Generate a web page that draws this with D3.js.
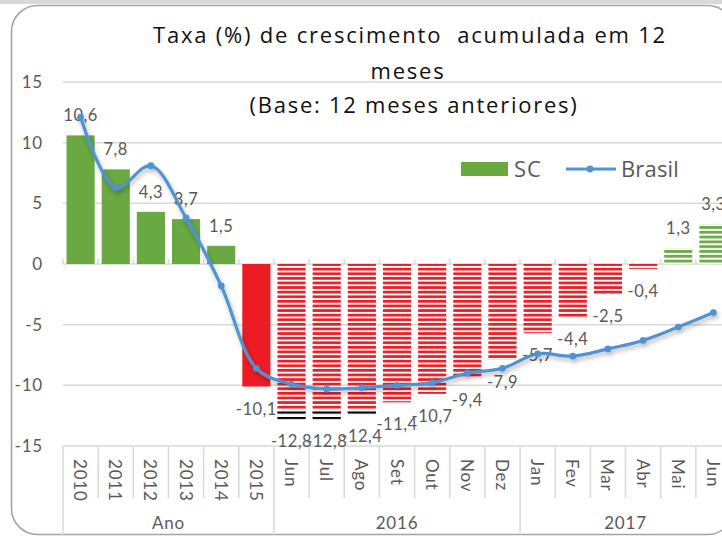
<!DOCTYPE html>
<html>
<head>
<meta charset="utf-8">
<script src="https://cdn.jsdelivr.net/npm/d3@7"></script>
<style>
  body { margin: 0; background: #fff; }
  svg { display: block; }
</style>
</head>
<body>
<svg id="chart" width="722" height="536"></svg>
<script>
// ---- data ----
const categories = ["2010", "2011", "2012", "2013", "2014", "2015",
  "Jun", "Jul", "Ago", "Set", "Out", "Nov", "Dez",
  "Jan", "Fev", "Mar", "Abr", "Mai", "Jun"];
const groupNames = ["Ano", "2016", "2017"];
const groupOf = [0, 0, 0, 0, 0, 0, 1, 1, 1, 1, 1, 1, 1, 2, 2, 2, 2, 2, 2];
const scValues = [10.6, 7.8, 4.3, 3.7, 1.5, -10.1, -12.8, -12.8, -12.4, -11.4, -10.7, -9.4, -7.9,
  -5.7, -4.4, -2.5, -0.4, 1.3, 3.3];
const brasilValues = [12.1, 6.3, 8.1, 3.8, -1.8, -8.6, -9.9, -10.3, -10.2, -10.0, -9.8, -9.0, -8.6,
  -7.4, -7.6, -7.0, -6.3, -5.2, -4.0];
const yTicks = [15, 10, 5, 0, -5, -10, -15];
const titleLines = ["Taxa (%) de crescimento  acumulada em 12", "meses", "(Base: 12 meses anteriores)"];
const seriesNames = ["SC", "Brasil"];

// ---- styles ----
const FONT = "Lato, 'Open Sans', sans-serif";
const TITLE_FONT = "'Open Sans', Lato, sans-serif";
const GREEN = "#6aa842";
const RED = "#ed1c24";
const BLUE = "#4f93d3";
const GRID = "#d9d9d9";
const TEXT = "#595959";

const svg = d3.select("#chart");
const fmt = v => String(v.toFixed(1)).replace(".", ",");

// stretch a text element's letter spacing so it spans a target width
function fitWidth(sel, target) {
  sel.each(function () {
    const n = this.getNumberOfChars();
    const len = this.getComputedTextLength();
    if (n > 1) d3.select(this).attr("letter-spacing", ((target - len) / n).toFixed(2));
  });
}

// ---- frame ----
svg.append("rect").attr("x", 0).attr("y", 0).attr("width", 722).attr("height", 4).attr("fill", "#d9d9d9");
svg.append("rect").attr("x", 11.5).attr("y", 5.5).attr("width", 722).attr("height", 529)
  .attr("rx", 26).attr("fill", "#fff").attr("stroke", "#a3a3a3").attr("stroke-width", 1.6);

// ---- scales ----
const plot = { left: 63, right: 731, top: 82, bottom: 446 };
const x = d3.scaleBand().domain(d3.range(categories.length))
  .range([plot.left, plot.right]).paddingInner(0.2).paddingOuter(0.1);
const y = d3.scaleLinear().domain([-15, 15]).range([plot.bottom, plot.top]);
const step = x.step();
const boundary = i => plot.left + i * step;

// ---- patterns ----
const defs = svg.append("defs");
function stripes(id, color, period, thick, offset) {
  const p = defs.append("pattern").attr("id", id).attr("patternUnits", "userSpaceOnUse")
    .attr("width", 10).attr("height", period).attr("y", offset);
  p.append("rect").attr("width", 10).attr("height", period).attr("fill", "#fff");
  p.append("rect").attr("width", 10).attr("height", thick).attr("fill", color);
}
stripes("stripeRed", RED, 4.6, 2.7, 1);
stripes("stripeGreen", GREEN, 4.8, 2.7, 0.5);
stripes("stripeBlack", "#000", 5.5, 2.2, 4.5);

const shadow = defs.append("filter").attr("id", "lineShadow")
  .attr("x", "-10%").attr("y", "-10%").attr("width", "130%").attr("height", "140%");
shadow.append("feDropShadow").attr("dx", 1.5).attr("dy", 3).attr("stdDeviation", 2.2)
  .attr("flood-color", "#000").attr("flood-opacity", 0.28);

// ---- gridlines & y axis ----
const yAxis = svg.append("g");
yAxis.selectAll("line").data(yTicks).join("line")
  .attr("x1", plot.left).attr("x2", plot.right)
  .attr("y1", d => y(d)).attr("y2", d => y(d))
  .attr("stroke", GRID).attr("stroke-width", 1.5);
yAxis.selectAll("text").data(yTicks).join("text")
  .attr("x", 43).attr("y", d => y(d) + 6)
  .attr("text-anchor", "end").attr("font-family", FONT).attr("font-size", 17)
  .attr("letter-spacing", 0.8).attr("fill", TEXT)
  .text(d => d);

// tick marks on the zero line
svg.append("g").selectAll("line").data(d3.range(categories.length + 1)).join("line")
  .attr("x1", boundary).attr("x2", boundary)
  .attr("y1", y(0) - 5).attr("y2", y(0))
  .attr("stroke", GRID).attr("stroke-width", 1.5);

// ---- x axis (two levels) ----
const groupStarts = [0];
groupOf.forEach((g, i) => { if (i > 0 && g !== groupOf[i - 1]) groupStarts.push(i); });
groupStarts.push(categories.length);

const xAxis = svg.append("g");
xAxis.selectAll("line.cat").data(d3.range(categories.length + 1)).join("line")
  .attr("class", "cat")
  .attr("x1", boundary).attr("x2", boundary)
  .attr("y1", plot.bottom)
  .attr("y2", i => groupStarts.includes(i) ? 536 : 498)
  .attr("stroke", GRID).attr("stroke-width", 1.5);
xAxis.selectAll("text.cat").data(categories).join("text")
  .attr("class", "cat")
  .attr("transform", (d, i) => `translate(${x(i) + x.bandwidth() / 2},459) rotate(90)`)
  .attr("dominant-baseline", "central")
  .attr("font-family", FONT).attr("font-size", 17).attr("letter-spacing", 0.8).attr("fill", TEXT)
  .text(d => d);
xAxis.selectAll("text.grp").data(groupNames).join("text")
  .attr("class", "grp")
  .attr("x", (d, g) => (boundary(groupStarts[g]) + boundary(groupStarts[g + 1])) / 2)
  .attr("y", 529)
  .attr("text-anchor", "middle")
  .attr("font-family", FONT).attr("font-size", 17).attr("letter-spacing", 0.8).attr("fill", TEXT)
  .text(d => d);

// ---- SC bars ----
const bars = svg.append("g");
const fillFor = (v, i) => {
  if (groupOf[i] === 0) return v >= 0 ? GREEN : RED;
  return v >= 0 ? "url(#stripeGreen)" : "url(#stripeRed)";
};
bars.selectAll("rect.bar").data(scValues).join("rect")
  .attr("class", "bar")
  .attr("x", (d, i) => x(i)).attr("width", x.bandwidth())
  .attr("y", d => y(Math.max(0, d)))
  .attr("height", d => Math.abs(y(d) - y(0)))
  .attr("fill", fillFor);

// dark banding on the deepest monthly bars (below -12)
const deepIdx = scValues.map((v, i) => i).filter(i => groupOf[i] > 0 && scValues[i] < -12);
bars.selectAll("rect.deep").data(deepIdx).join("rect")
  .attr("class", "deep")
  .attr("x", i => x(i)).attr("width", x.bandwidth())
  .attr("y", y(-12)).attr("height", i => y(scValues[i]) - y(-12))
  .attr("fill", "url(#stripeBlack)");

// ---- data labels ----
svg.append("g").selectAll("text").data(scValues).join("text")
  .attr("x", (d, i) => x(i) + x.bandwidth() / 2)
  .attr("y", d => d >= 0 ? y(d) - 14 : y(d) + 28)
  .attr("text-anchor", "middle")
  .attr("font-family", FONT).attr("font-size", 16.5).attr("letter-spacing", 0.5)
  .attr("fill", TEXT)
  .text(fmt);

// ---- Brasil line ----
const line = d3.line()
  .x((d, i) => x(i) + x.bandwidth() / 2)
  .y(d => y(d))
  .curve(d3.curveCatmullRom.alpha(0.5));
const lineG = svg.append("g").attr("filter", "url(#lineShadow)");
lineG.append("path").datum(brasilValues)
  .attr("d", line).attr("fill", "none")
  .attr("stroke", BLUE).attr("stroke-width", 3.2).attr("stroke-linecap", "round");
lineG.selectAll("circle").data(brasilValues).join("circle")
  .attr("cx", (d, i) => x(i) + x.bandwidth() / 2).attr("cy", d => y(d))
  .attr("r", 3.4).attr("fill", BLUE);

// ---- title ----
const titleTargets = [514, 75, 329];
const titleCenters = [410, 408, 414];
const titleBase = [43, 79, 113];
svg.append("g").selectAll("text").data(titleLines).join("text")
  .attr("x", (d, i) => titleCenters[i]).attr("y", (d, i) => titleBase[i])
  .attr("text-anchor", "middle")
  .style("white-space", "pre")
  .attr("font-family", TITLE_FONT).attr("font-size", 22).attr("fill", "#111")
  .text(d => d)
  .each(function (d, i) { fitWidth(d3.select(this), titleTargets[i]); });

// ---- legend ----
const legend = svg.append("g");
legend.append("rect").attr("x", 461).attr("y", 162).attr("width", 47).attr("height", 14).attr("fill", GREEN);
legend.append("text").attr("x", 514).attr("y", 177)
  .attr("font-family", TITLE_FONT).attr("font-size", 22).attr("fill", TEXT).text(seriesNames[0])
  .call(fitWidth, 28);
legend.append("line").attr("x1", 566).attr("x2", 616).attr("y1", 169).attr("y2", 169)
  .attr("stroke", BLUE).attr("stroke-width", 3.2);
legend.append("circle").attr("cx", 590).attr("cy", 169).attr("r", 3.4).attr("fill", BLUE);
legend.append("text").attr("x", 621).attr("y", 177)
  .attr("font-family", TITLE_FONT).attr("font-size", 22).attr("fill", TEXT).text(seriesNames[1])
  .call(fitWidth, 58);
</script>
</body>
</html>
